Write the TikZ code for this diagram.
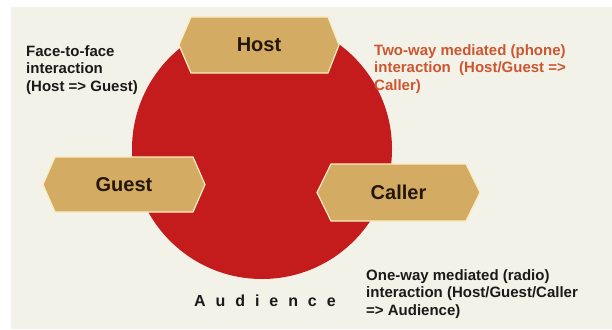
\documentclass[tikz,border=0pt]{standalone}
\usepackage{fontspec}
\setmainfont{Liberation Sans}
\definecolor{bgcream}{HTML}{F3F2E8}
\definecolor{discred}{HTML}{C41C1C}
\definecolor{hexfill}{HTML}{D3AB62}
\definecolor{hexedge}{HTML}{F8EDC2}
\definecolor{darktext}{HTML}{1C1A18}
\definecolor{hexlabel}{HTML}{241608}
\definecolor{orangetext}{HTML}{CC5630}
\tikzset{
  hexshape/.style={fill=hexfill, draw=hexedge, line width=1.2pt, line join=miter},
  hexlabeltext/.style={font=\bfseries\fontsize{20}{24}\selectfont, text=hexlabel, inner sep=0pt},
  sidetext/.style={font=\bfseries\fontsize{15}{17.6}\selectfont, text=darktext, align=left, anchor=north west, inner sep=0pt},
}
\begin{document}
\begin{tikzpicture}[x=1pt,y=-1pt]
\useasboundingbox (0,0) rectangle (612,329);
\fill[white] (0,0) rectangle (612,329);
\fill[bgcream] (11,7) rectangle (612,329);
% disc
\fill[discred] (262,149) circle[radius=130];
% hexagons
\path[hexshape] (179,45) -- (191,17) -- (328,17) -- (339,45) -- (328,73) -- (191,73) -- cycle;
\node[hexlabeltext] (host) at (259,45) {Host};
\path[hexshape] (43,184.5) -- (55,157) -- (193,157) -- (205,184.5) -- (193,212) -- (55,212) -- cycle;
\node[hexlabeltext] (guest) at (124,184.5) {Guest};
\path[hexshape] (317,192.5) -- (331,164) -- (466,164) -- (480,192.5) -- (466,221) -- (331,221) -- cycle;
\node[hexlabeltext] (caller) at (398.5,192.5) {Caller};
% side texts
\node[sidetext] (ftf) at (26,45) {Face-to-face\\interaction\\(Host => Guest)};
\node[sidetext, text=orangetext] (twoway) at (374,44) {Two-way mediated (phone)\\interaction\ \ (Host/Guest =>\\Caller)};
\node[sidetext] (oneway) at (366,269) {One-way mediated (radio)\\interaction (Host/Guest/Caller\\=> Audience)};
\node[font=\bfseries\fontsize{16}{18}\selectfont\addfontfeature{LetterSpace=62}, text=darktext, inner sep=0pt, anchor=west] (aud) at (194,301) {Audience};
\end{tikzpicture}
\end{document}
